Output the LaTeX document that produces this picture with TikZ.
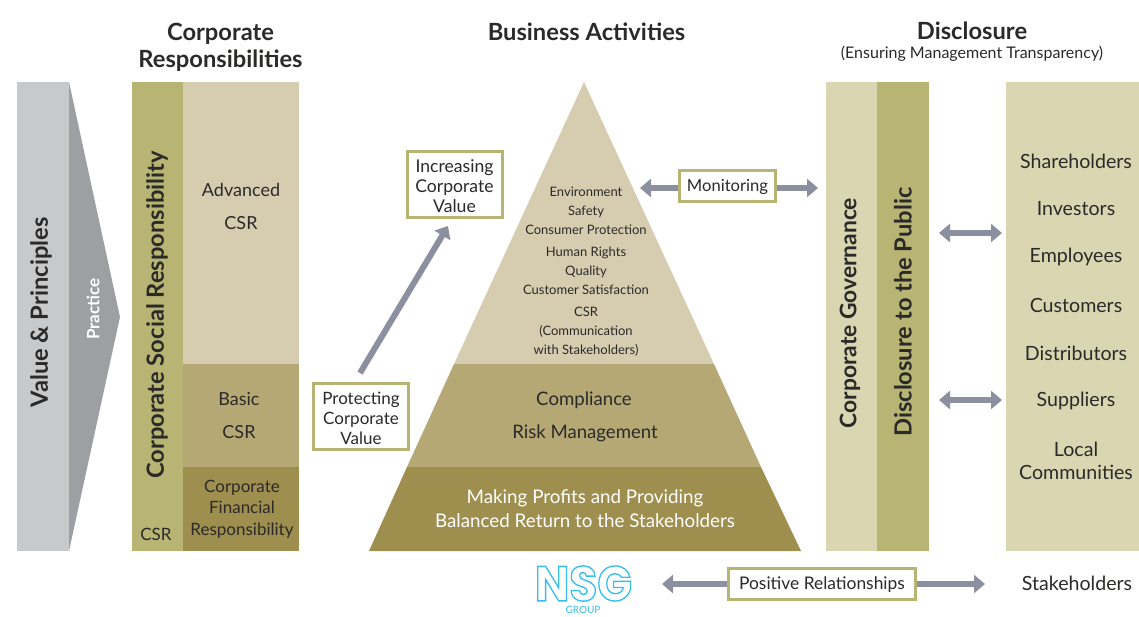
\documentclass[tikz,border=0pt]{standalone}
\usepackage{fontspec}
\setmainfont{Lato}
\usetikzlibrary{arrows.meta}
\definecolor{txt}{HTML}{2B2A29}
\definecolor{gA}{HTML}{C8C9CB}
\definecolor{gB}{HTML}{9D9FA3}
\definecolor{olive}{HTML}{B8B574}
\definecolor{sandA}{HTML}{D6CDB0}
\definecolor{sandB}{HTML}{B5A875}
\definecolor{sandC}{HTML}{9E8F4E}
\definecolor{paleO}{HTML}{DAD6B1}
\definecolor{arr}{HTML}{8B8FA0}
\definecolor{nsg}{HTML}{35BDEF}
\newcommand{\lowerA}{\rule{0pt}{16.5pt}}
\newcommand{\lowerB}{\rule{0pt}{14.5pt}}
\tikzset{
 x=1pt,y=-1pt,
 lbl/.style={text=txt,font=\fontsize{18.4}{24}\selectfont,align=center,inner sep=0pt},
 stk/.style={text=txt,font=\fontsize{19.6}{23}\selectfont,align=center,inner sep=0pt},
 small/.style={text=txt,font=\fontsize{13}{19}\selectfont,align=center,inner sep=0pt},
 head/.style={text=txt,font=\fontsize{23.7}{27}\selectfont\bfseries,align=center,inner sep=0pt},
 vert/.style={text=txt,font=\fontsize{23.7}{27}\selectfont\bfseries,rotate=90,inner sep=0pt},
 valbox/.style={draw=olive,line width=3pt,fill=white,text=txt,font=\fontsize{17}{20}\selectfont,align=center,inner sep=0pt},
 conn/.style={draw=arr,line width=6pt,-{Triangle[width=18pt,length=11pt]}},
 conn2/.style={draw=arr,line width=6pt,{Triangle[width=18pt,length=11pt]}-{Triangle[width=18pt,length=11pt]}},
}
\begin{document}
\begin{tikzpicture}
\useasboundingbox (0,0) rectangle (1139,616);
% left
\fill[gA] (17,82) rectangle (69,551);
\fill[gB] (69,82) -- (120,317) -- (69,551) -- cycle;
\fill[olive] (132,82) rectangle (183,551);
\fill[sandA] (183,82) rectangle (299,364);
\fill[sandB] (183,364) rectangle (299,467);
\fill[sandC] (183,467) rectangle (299,551);
% pyramid
\fill[sandA] (584,82) -- (714,364) -- (454,364) -- cycle;
\fill[sandB] (454,364) -- (714,364) -- (761,467) -- (407,467) -- cycle;
\fill[sandC] (407,467) -- (761,467) -- (801,551) -- (369,551) -- cycle;
% right
\fill[paleO] (826,82) rectangle (877,551);
\fill[olive] (877,82) rectangle (929,551);
\fill[paleO] (1006,82) rectangle (1139,551);
% headings
\node[head] (h1) at (220.5,47) {Corporate\\Responsibilities};
\node[head] (h2) at (586.5,31.5) {Business Activities};
\node[head] (h3) at (972,31) {Disclosure};
\node[text=txt,font=\fontsize{16}{18}\selectfont,inner sep=0pt] (h3b) at (972,54) {(Ensuring Management Transparency)};
% verticals
\node[vert] (vp) at (41,312.5) {Value \& Principles};
\node[vert,text=white,font=\fontsize{17}{18}\selectfont\bfseries] (pr) at (93,309) {Practice};
\node[vert] (csr) at (157,315) {Corporate Social Responsibility};
\node[vert,font=\fontsize{22.8}{27}\selectfont\bfseries] (cg) at (850,313) {Corporate Governance};
\node[vert] (dp) at (903,312) {Disclosure to the Public};
% left column
\node[lbl,font=\fontsize{18}{24}\selectfont] (acsr) at (241,190) {Advanced};
\node[lbl,font=\fontsize{18}{24}\selectfont] (acsr2) at (241,223) {CSR};
\node[lbl,font=\fontsize{18}{24}\selectfont] (bcsr) at (239,399) {Basic};
\node[lbl,font=\fontsize{18}{24}\selectfont] (bcsr2) at (239,432) {CSR};
\node[text=txt,font=\fontsize{17}{21.5}\selectfont,align=center,inner sep=0pt] (cfr) at (242,509) {Corporate\\Financial\\Responsibility};
\node[text=txt,font=\fontsize{17}{20}\selectfont,inner sep=0pt] (csrs) at (156,534) {CSR};
% pyramid text
\node[small] (p1) at (586,210.5) {Environment\\Safety\\Consumer Protection};
\node[small] (p2) at (586,270.5) {Human Rights\\Quality\\Customer Satisfaction};
\node[small] (p3) at (586,332) {CSR\\(Communication\\with Stakeholders)};
\node[lbl,font=\fontsize{18.6}{24}\selectfont] (p4) at (584,400) {Compliance};
\node[lbl,font=\fontsize{18.6}{24}\selectfont] (p5) at (585,433) {Risk Management};
\node[lbl,text=white,font=\fontsize{18.8}{23.5}\selectfont] (p6) at (585,508.5) {Making Profits and Providing\\Balanced Return to the Stakeholders};
% boxes
\node[valbox,minimum width=95pt,minimum height=66pt,font=\fontsize{17.6}{20}\selectfont] (inc) at (454.5,184.5) {\lowerA Increasing\\Corporate\\Value};
\node[valbox,minimum width=95pt,minimum height=66pt] (pro) at (361,416.5) {\lowerA Protecting\\Corporate\\Value};
\node[valbox,minimum width=96pt,minimum height=31pt,font=\fontsize{16.6}{20}\selectfont] (mon) at (727.5,186) {\lowerB Monitoring};
\node[valbox,minimum width=187pt,minimum height=31pt,font=\fontsize{17.4}{20}\selectfont] (pos) at (822,584) {\lowerB Positive Relationships};
% stakeholders
\node[stk] (s1) at (1076,161) {Shareholders};
\node[stk] (s2) at (1076,209) {Investors};
\node[stk] (s3) at (1076,257) {Employees};
\node[stk] (s4) at (1076,305) {Customers};
\node[stk] (s5) at (1076,353) {Distributors};
\node[stk] (s6) at (1076,401) {Suppliers};
\node[stk] (s7) at (1076,460.5) {Local\\Communities};
\node[stk] (sk) at (1077,583) {Stakeholders};
% logo
\node[inner sep=0pt,text=nsg] (logo) at (583.5,583.5) {\resizebox{97pt}{35pt}{\special{pdf:code q 1 Tr 1.1 w}\fontspec{Poppins}\bfseries\fontsize{40}{40}\selectfont NSG\special{pdf:code Q}}};
\node[inner sep=0pt,text=nsg,font=\fontsize{10}{11}\selectfont] (grp) at (583,609.5) {GROUP};
% connectors
\coordinate (aS) at (360,373);
\coordinate (aE) at (448,226);
\draw[conn] (aS) -- (aE);
\coordinate (mL) at (640,188);
\coordinate (mR) at (818,188);
\draw[conn] (mon.west |- mL) -- (mL);
\draw[conn] (mon.east |- mR) -- (mR);
\coordinate (d1a) at (939,233); \coordinate (d1b) at (1002,233);
\coordinate (d2a) at (939,400); \coordinate (d2b) at (1002,400);
\draw[conn2] (d1a) -- (d1b);
\draw[conn2] (d2a) -- (d2b);
\coordinate (bL) at (662,584); \coordinate (bR) at (985,584);
\draw[conn] (pos.west) -- (bL);
\draw[conn] (pos.east) -- (bR);
\end{tikzpicture}
\end{document}
